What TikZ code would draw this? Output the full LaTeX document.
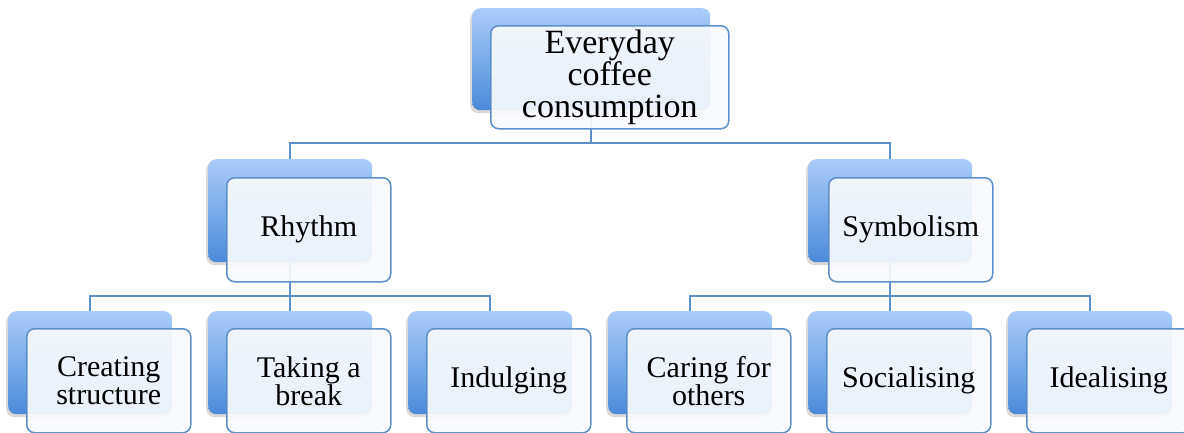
\documentclass[tikz,border=0pt]{standalone}
\usepackage{fontspec}
\setmainfont{Liberation Serif}
\usetikzlibrary{shadows, positioning}
\definecolor{boxline}{RGB}{95, 143, 200}
\definecolor{shadetop}{RGB}{170, 204, 250}
\definecolor{shadebot}{RGB}{74, 138, 216}
\definecolor{facefill}{RGB}{248, 250, 253}

\begin{document}
\begin{tikzpicture}[
  x=1pt, y=-1pt,
  backbox/.style={rectangle, rounded corners=8pt, top color=shadetop, bottom color=shadebot,
                  minimum width=164pt, minimum height=103pt, inner sep=0pt, anchor=north west,
                  drop shadow={shadow xshift=-2pt, shadow yshift=-3pt, opacity=0.3}},
  facebox/.style={rectangle, rounded corners=8pt, draw=boxline, line width=1.5pt,
                  fill=facefill, fill opacity=0.92, text opacity=1,
                  minimum width=164pt, minimum height=104pt, inner sep=0pt, anchor=north west,
                  align=center, font=\fontsize{30}{28}\selectfont},
  link/.style={boxline, line width=2pt}
]
  \useasboundingbox (0,0) rectangle (1184,432);

  % back boxes
  \node[backbox, minimum width=238pt, minimum height=102pt] (b-top) at (472,8) {};
  \node[backbox] (b-rhythm) at (208,159) {};
  \node[backbox] (b-symbol) at (808,159) {};
  \node[backbox] (b-struct) at (8,311) {};
  \node[backbox] (b-break) at (208,311) {};
  \node[backbox] (b-indulge) at (408,311) {};
  \node[backbox] (b-caring) at (608,311) {};
  \node[backbox] (b-social) at (808,311) {};
  \node[backbox] (b-ideal) at (1008,311) {};

  % connectors
  \draw[link] (b-top.south) -- ++(0,33) -| (b-rhythm.north);
  \draw[link] (b-top.south) -- ++(0,33) -| (b-symbol.north);
  \draw[link] (b-rhythm.south) -- ++(0,34) -| (b-struct.north);
  \draw[link] (b-rhythm.south) -- ++(0,34) -| (b-break.north);
  \draw[link] (b-rhythm.south) -- ++(0,34) -| (b-indulge.north);
  \draw[link] (b-symbol.south) -- ++(0,34) -| (b-caring.north);
  \draw[link] (b-symbol.south) -- ++(0,34) -| (b-social.north);
  \draw[link] (b-symbol.south) -- ++(0,34) -| (b-ideal.north);

  % front boxes
  \node[facebox, minimum width=238pt, minimum height=103pt, font=\fontsize{34}{32}\selectfont]
    (top) at ([shift={(18,17)}]b-top.north west) {Everyday\\coffee\\consumption};
  \node[facebox] (rhythm) at ([shift={(18,18)}]b-rhythm.north west) {Rhythm};
  \node[facebox] (symbol) at ([shift={(20,18)}]b-symbol.north west) {Symbolism};
  \node[facebox] (struct) at ([shift={(18,17)}]b-struct.north west) {Creating\\structure};
  \node[facebox] (break) at ([shift={(18,17)}]b-break.north west) {Taking a\\break};
  \node[facebox] (indulge) at ([shift={(18,17)}]b-indulge.north west) {Indulging};
  \node[facebox] (caring) at ([shift={(18,17)}]b-caring.north west) {Caring for\\others};
  \node[facebox] (social) at ([shift={(18,17)}]b-social.north west) {Socialising};
  \node[facebox] (ideal) at ([shift={(18,17)}]b-ideal.north west) {Idealising};
\end{tikzpicture}
\end{document}
